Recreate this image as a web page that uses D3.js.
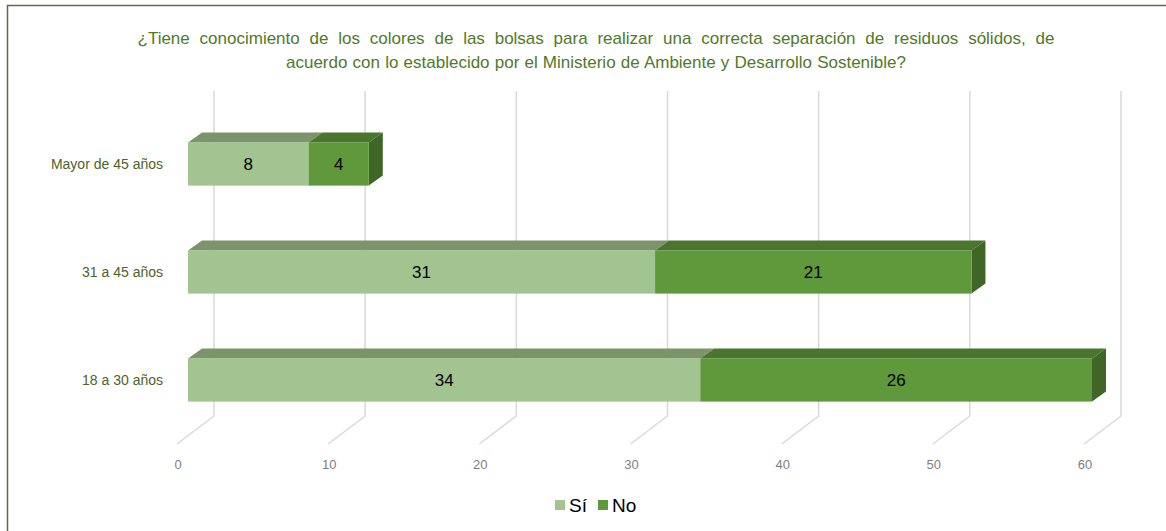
<!DOCTYPE html>
<html>
<head>
<meta charset="utf-8">
<script src="https://cdn.jsdelivr.net/npm/d3@7"></script>
<style>
  body { margin: 0; background: #fff; }
  svg { display: block; font-family: "Liberation Sans", Arial, sans-serif; }
</style>
</head>
<body>
<div class="graph"></div>
<script>
// datos del gráfico
var categorias = ["Mayor de 45 años", "31 a 45 años", "18 a 30 años"];
var serie_si = [8, 31, 34];
var serie_no = [4, 21, 26];
var series = ["Sí", "No"];
var ticks = [0, 10, 20, 30, 40, 50, 60];
var titulo = ["¿Tiene conocimiento de los colores de las bolsas para realizar una correcta separación de residuos sólidos, de",
              "acuerdo con lo establecido por el Ministerio de Ambiente y Desarrollo Sostenible?"];

var width = 1166, height = 531;

var colores = {
    "Sí": { front: "#a1c490", top: "#7b9469", side: "#6f8a5c" },
    "No": { front: "#5f993b", top: "#4a752c", side: "#3f6627" }
};

var svg = d3.select('.graph').append('svg')
    .attr('width', width)
    .attr('height', height);

// marco
svg.append('path')
    .attr('d', 'M7.5,' + height + 'V5.5H' + width)
    .attr('fill', 'none')
    .attr('stroke', '#5b6e45')
    .attr('stroke-width', 1.5);

// escala de las barras (cara frontal)
var x = d3.scaleLinear().domain([0, 60]).range([188, 1092]);
// escala de la pared del fondo (rejilla)
var xGrid = d3.scaleLinear().domain([0, 60]).range([214, 1121]);
var y = d3.scaleBand().domain(categorias).range([110, 434]).paddingInner(0.6).paddingOuter(0.3);

var depthX = 14, depthY = -10;
var floorY = 416, frontDX = -37, frontDY = 28;

// rejilla
var grid = svg.append('g').attr('class', 'grid');
grid.selectAll('path')
    .data(ticks)
    .enter()
    .append('path')
    .attr('d', function(d) {
        var xb = xGrid(d);
        return 'M' + xb + ',91V' + floorY + 'L' + (xb + frontDX) + ',' + (floorY + frontDY);
    })
    .attr('fill', 'none')
    .attr('stroke', '#d9d9d9')
    .attr('stroke-width', 1.5);

grid.selectAll('text')
    .data(ticks)
    .enter()
    .append('text')
    .attr('x', function(d) { return xGrid(d) + frontDX + 1; })
    .attr('y', 469)
    .attr('text-anchor', 'middle')
    .attr('font-size', '13px')
    .attr('fill', '#7f7f7f')
    .text(function(d) { return d; });

// barras apiladas en 3D
var datos = categorias.map(function(c, i) {
    return [
        { cat: c, serie: "Sí", x0: 0, x1: serie_si[i], v: serie_si[i] },
        { cat: c, serie: "No", x0: serie_si[i], x1: serie_si[i] + serie_no[i], v: serie_no[i] }
    ];
});

var barras = svg.append('g').attr('class', 'bars');
datos.forEach(function(fila) {
    var g = barras.append('g');
    fila.forEach(function(d, j) {
        var x0 = x(d.x0), x1 = x(d.x1);
        var y0 = y(d.cat), h = y.bandwidth();
        var c = colores[d.serie];
        // cara superior
        g.append('path')
            .attr('d', 'M' + x0 + ',' + y0 + 'L' + (x0 + depthX) + ',' + (y0 + depthY) +
                       'H' + (x1 + depthX) + 'L' + x1 + ',' + y0 + 'Z')
            .attr('fill', c.top);
        // cara lateral (solo el último segmento)
        if (j === fila.length - 1) {
            g.append('path')
                .attr('d', 'M' + x1 + ',' + y0 + 'L' + (x1 + depthX) + ',' + (y0 + depthY) +
                           'V' + (y0 + h + depthY) + 'L' + x1 + ',' + (y0 + h) + 'Z')
                .attr('fill', c.side);
        }
        // cara frontal
        g.append('rect')
            .attr('x', x0)
            .attr('y', y0)
            .attr('width', x1 - x0)
            .attr('height', h)
            .attr('fill', c.front);
        // etiqueta de dato
        g.append('text')
            .attr('x', (x0 + x1) / 2)
            .attr('y', y0 + h / 2 + 6)
            .attr('text-anchor', 'middle')
            .attr('font-size', '17px')
            .attr('fill', '#000')
            .text(d.v);
    });
});

// etiquetas de categoría
svg.append('g').selectAll('text')
    .data(categorias)
    .enter()
    .append('text')
    .attr('x', 163)
    .attr('y', function(d) { return y(d) + y.bandwidth() / 2 + 5; })
    .attr('text-anchor', 'end')
    .attr('font-size', '14px')
    .attr('fill', '#4f6228')
    .text(function(d) { return d; });

// título: se ensancha el espacio entre palabras para llegar al ancho del original
var anchoTitulo = [917, 620];
svg.append('g').selectAll('text')
    .data(titulo)
    .enter()
    .append('text')
    .attr('x', 596)
    .attr('y', function(d, i) { return 44 + i * 24; })
    .attr('text-anchor', 'middle')
    .attr('font-size', '17px')
    .attr('fill', '#4f7a28')
    .text(function(d) { return d; })
    .each(function(d, i) {
        var natural = this.getComputedTextLength();
        var espacios = d.split(' ').length - 1;
        var extra = Math.max(0, (anchoTitulo[i] - natural) / espacios);
        d3.select(this).style('word-spacing', extra + 'px');
    });

// leyenda
var leyenda = svg.append('g').attr('class', 'legend');
var posLeyenda = [555, 598];
series.forEach(function(s, i) {
    leyenda.append('rect')
        .attr('x', posLeyenda[i])
        .attr('y', 500)
        .attr('width', 10)
        .attr('height', 10)
        .attr('fill', colores[s].front);
    leyenda.append('text')
        .attr('x', posLeyenda[i] + 14)
        .attr('y', 512)
        .attr('font-size', '19px')
        .attr('fill', '#000')
        .text(s);
});
</script>
</body>
</html>
